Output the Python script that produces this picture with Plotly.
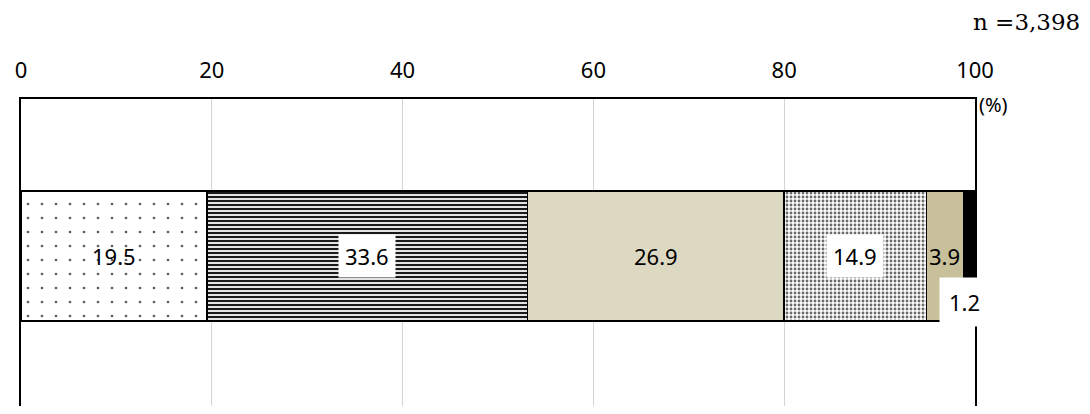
import plotly.graph_objects as go

# ---- data ----
segments = ["s1", "s2", "s3", "s4", "s5", "s6"]
values = [19.5, 33.6, 26.9, 14.9, 3.9, 1.2]
x_ticks = [0, 20, 40, 60, 80, 100]
n_label = "n =3,398"
unit_label = "(%)"

# ---- styles ----
fills = [
    dict(color="white", pattern=dict(shape=".", bgcolor="white", fgcolor="#5e5e5e",
                                     size=14, solidity=0.03, fillmode="replace")),
    dict(color="#888888", pattern=dict(shape="-", bgcolor="#e2e2e2", fgcolor="#1a1a1a",
                                       size=4, solidity=0.5, fillmode="replace")),
    dict(color="#DDD8C2"),
    dict(color="#aaaaaa", pattern=dict(shape=".", bgcolor="white", fgcolor="#6a6a6a",
                                       size=4, solidity=0.4, fillmode="replace")),
    dict(color="#C8BF9B"),
    dict(color="#000000"),
]
label_bg = [None, "white", None, "white", None, "white"]
label_pad = [6, 6, 6, 6, 6, 9]
label_shift = [(0, 0), (0, 0), (0, 0), (0, 0), (0, 0), (-5, -46)]

# page body has an 8px margin; compensate so the plot sits where the reference has it
OFF = 8
W, H = 1090 - 2 * OFF, 414 - 2 * OFF
ml, mt, mb = 21 - OFF, 99 - OFF, 0
mr = W - (975 - OFF)
pw, ph = W - ml - mr, H - mt - mb


def px_to_paper(px, py):
    return ((px - OFF) - ml) / pw, 1 - ((py - OFF) - mt) / ph


# y range chosen so the bar centre lands at page y=256 and bar height is ~130px
frac_top = ((256 - OFF) - mt) / ph
y_hi = frac_top * 2
y_lo = y_hi - 2
bar_w = 130 / ph * 2

fig = go.Figure()
for name, v, f in zip(segments, values, fills):
    marker = dict(color=f["color"], line=dict(color="black", width=1.5))
    if "pattern" in f:
        marker["pattern"] = f["pattern"]
    fig.add_trace(go.Bar(x=[v], y=[0], name=name, orientation="h",
                         width=bar_w, marker=marker, hoverinfo="skip"))

cum = 0
for v, bg, pad, (dx, dy) in zip(values, label_bg, label_pad, label_shift):
    mid = cum + v / 2
    cum += v
    ann = dict(x=mid, y=0, xref="x", yref="y", text=f"{v:.1f}", showarrow=False,
               font=dict(family="Noto Sans", size=22, color="black"),
               xshift=dx, yshift=dy)
    if bg:
        ann.update(bgcolor=bg, borderpad=pad)
    fig.add_annotation(**ann)

nx, ny = px_to_paper(1082, 22)
fig.add_annotation(x=nx, y=ny, xref="paper", yref="paper", text=n_label, showarrow=False,
                   xanchor="right", yanchor="middle",
                   font=dict(family="DejaVu Serif", size=23, color="black"))
ux, uy = px_to_paper(993, 104)
fig.add_annotation(x=ux, y=uy, xref="paper", yref="paper", text=unit_label, showarrow=False,
                   xanchor="center", yanchor="middle",
                   font=dict(family="Noto Sans", size=20, color="black"))

fig.update_layout(
    width=W, height=H,
    margin=dict(l=ml, r=mr, t=mt, b=mb, pad=0),
    barmode="stack", showlegend=False,
    plot_bgcolor="white", paper_bgcolor="white",
    xaxis=dict(range=[0, 100], side="top", tickvals=x_ticks,
               ticktext=[str(t) for t in x_ticks],
               tickfont=dict(family="Noto Sans", size=22, color="black"),
               showgrid=True, gridcolor="#d4d4d4", gridwidth=1,
               showline=True, linecolor="black", linewidth=2,
               ticks="", ticklabelstandoff=10, zeroline=False, fixedrange=True),
    yaxis=dict(range=[y_lo, y_hi], showticklabels=False, showgrid=False, zeroline=False,
               showline=True, linecolor="black", linewidth=2, mirror=True,
               ticks="", fixedrange=True),
)

fig.write_html("out.html")
